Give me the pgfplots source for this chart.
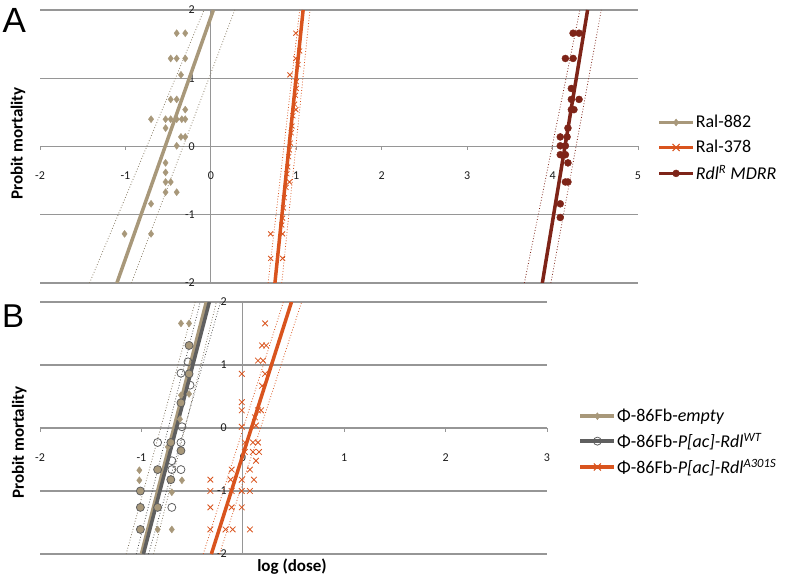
\documentclass[border=0pt]{standalone}
\usepackage{fontspec}
\setmainfont{Carlito}
\newfontfamily\panelfont{Liberation Sans}
\usepackage{pgfplots}
\pgfplotsset{compat=1.18}

\definecolor{tanc}{RGB}{168,152,122}
\definecolor{rust}{RGB}{217,84,30}
\definecolor{maroon}{RGB}{126,36,24}
\definecolor{slate}{RGB}{95,95,95}
\definecolor{gridgray}{RGB}{150,150,150}

\pgfplotsset{
  probit/.style={
    scale only axis,
    axis lines=middle,
    axis line style={-, gridgray, line width=1.2pt},
    enlargelimits=false,
    clip mode=individual,
    ymin=-2, ymax=2, ytick={-2,-1,0,1,2},
    ymajorgrids, major grid style={gridgray, line width=1.2pt},
    hide obscured x ticks=false, hide obscured y ticks=false,
    xtick style={gridgray, line width=0.8pt}, ytick style={draw=none},
    major tick length=3.5pt, tick align=outside,
    /pgf/number format/assume math mode=true,
    ticklabel style={font=\fontsize{12}{14}\selectfont, text=black!90},
    xticklabel style={anchor=center, yshift=-26pt},
    yticklabel style={anchor=east, xshift=-9pt},
    ylabel={Probit mortality},
    legend style={draw=none, fill=none, font=\fontsize{18}{21}\selectfont,
      inner sep=0pt, nodes={inner sep=1pt, anchor=west}},
    legend cell align=left,
    legend image code/.code={
      \draw[mark repeat=2, mark phase=2, #1]
        plot coordinates {(0pt,0pt) (17pt,0pt) (34pt,0pt)};
    },
  },
  fit/.style={line width=3.5pt, mark=none, forget plot},
  band/.style={line width=0.8pt, dotted, mark=none, forget plot},
  pts/.style={only marks, forget plot},
}

\begin{document}
\begin{tikzpicture}
\path[use as bounding box] (0,0) rectangle (789pt,578pt);

% ---------------- panel A
\begin{axis}[probit,
  at={(40pt,295pt)}, anchor=south west,
  width=598pt, height=273pt,
  xmin=-2, xmax=5, xtick={-2,...,5},
  ylabel style={at={(rel axis cs:-0.037,0.511)}, rotate=90, anchor=center,
    font=\fontsize{17}{20}\selectfont\bfseries},
  legend style={at={(rel axis cs:1.032,0.493)}, anchor=west, row sep=9pt},
]
\addlegendimage{tanc, line width=3.5pt, mark=diamond*, mark options={solid, line width=0.4pt, fill=tanc, mark size=3.5pt}}
\addlegendentry{Ral-882}
\addlegendimage{rust, line width=3.5pt, mark=x, mark options={solid, line width=1pt, mark size=5pt}}
\addlegendentry{Ral-378}
\addlegendimage{maroon, line width=3.5pt, mark=*, mark options={solid, line width=0.4pt, fill=maroon, mark size=3.5pt}}
\addlegendentry{\textit{Rdl}\textsuperscript{\textit{R}} \textit{MDRR}}

% Ral-882
\addplot[band, tanc!80!black] coordinates {(-1.42,-2) (-0.08,2)};
\addplot[band, tanc!80!black] coordinates {(-0.93,-2) (0.28,2)};
\addplot[fit, tanc] coordinates {(-1.10,-2) (0.03,2)};
\addplot[pts, mark=diamond*, tanc, mark size=3.5pt] coordinates {
  (-0.40,1.66) (-0.30,1.66) (-0.47,1.29) (-0.40,1.29) (-0.30,1.29)
  (-0.35,1.05) (-0.47,0.69) (-0.40,0.69) (-0.30,0.54) (-0.70,0.40)
  (-0.53,0.40) (-0.47,0.40) (-0.40,0.40) (-0.34,0.40) (-0.30,0.40)
  (-0.53,0.27) (-0.35,0.14) (-0.30,0.14) (-0.40,0.01) (-0.53,-0.24)
  (-0.53,-0.38) (-0.53,-0.52) (-0.47,-0.52) (-0.53,-0.67) (-0.40,-0.67)
  (-0.70,-0.84) (-1.01,-1.28) (-0.70,-1.28)
};

% Ral-378
\addplot[band, rust] coordinates {(0.67,-2) (1.04,2)};
\addplot[band, rust] coordinates {(0.83,-2) (1.16,2)};
\addplot[fit, rust] coordinates {(0.75,-2) (1.08,2)};
\addplot[pts, mark=x, rust, mark size=3.5pt, line width=0.8pt] coordinates {
  (0.995,1.66) (0.995,1.29) (0.925,1.05) (1.04,1.40) (1.02,1.20)
  (1.00,0.95) (1.00,0.85) (0.99,0.75) (0.98,0.62) (0.995,0.54)
  (0.96,0.45) (0.95,0.30) (0.94,0.20) (0.93,0.05) (0.92,-0.05)
  (0.91,-0.15) (0.90,-0.30) (0.89,-0.40) (0.92,-0.52) (0.88,-0.60)
  (0.86,-0.75) (0.85,-0.90) (0.84,-1.05) (0.83,-1.15)
  (0.70,-1.28) (0.84,-1.28) (0.70,-1.64) (0.84,-1.64)
};

% Rdl R MDRR
\addplot[band, maroon] coordinates {(3.67,-2) (4.32,2)};
\addplot[band, maroon] coordinates {(3.98,-2) (4.57,2)};
\addplot[fit, maroon] coordinates {(3.88,-2) (4.41,2)};
\addplot[pts, mark=*, maroon, mark size=3.5pt] coordinates {
  (4.24,1.66) (4.31,1.66) (4.15,1.29) (4.24,1.29) (4.22,0.85)
  (4.22,0.69) (4.31,0.69) (4.22,0.54) (4.25,0.54) (4.18,0.27)
  (4.09,0.14) (4.17,0.14) (4.09,0.01) (4.15,0.01) (4.09,-0.12)
  (4.15,-0.12) (4.18,-0.24) (4.15,-0.52) (4.18,-0.52) (4.09,-0.84)
  (4.09,-1.04)
};

\node[font=\panelfont\fontsize{35}{38}\selectfont] at (rel axis cs:-0.043,0.963) {A};
\end{axis}

% ---------------- panel B
\begin{axis}[probit,
  at={(40pt,24pt)}, anchor=south west,
  width=507pt, height=252pt,
  xmin=-2, xmax=3, xtick={-2,...,3},
  xlabel={log (dose)},
  xlabel style={at={(rel axis cs:0.497,-0.052)}, anchor=center,
    font=\fontsize{17}{20}\selectfont\bfseries},
  ylabel style={at={(rel axis cs:-0.041,0.442)}, rotate=90, anchor=center,
    font=\fontsize{17}{20}\selectfont\bfseries},
  legend style={at={(rel axis cs:1.062,0.444)}, anchor=west, row sep=8pt},
]
\addlegendimage{tanc, line width=3.5pt, mark=diamond*, mark options={solid, line width=0.4pt, fill=tanc, mark size=3.5pt}}
\addlegendentry{Φ-86Fb-\textit{empty}}
\addlegendimage{slate, line width=3.5pt, mark=o, mark options={solid, line width=0.8pt, fill=white, mark size=4pt}}
\addlegendentry{Φ-86Fb-\textit{P[ac]-Rdl}\textsuperscript{\textit{WT}}}
\addlegendimage{rust, line width=3.5pt, mark=x, mark options={solid, line width=1pt, mark size=5pt}}
\addlegendentry{Φ-86Fb-\textit{P[ac]-Rdl}\textsuperscript{\textit{A301S}}}

% empty and WT
\addplot[band, tanc!75!black] coordinates {(-1.15,-2) (-0.47,2)};
\addplot[band, tanc!75!black] coordinates {(-0.88,-2) (-0.26,2)};
\addplot[band, black!70] coordinates {(-1.05,-2) (-0.42,2)};
\addplot[band, black!70] coordinates {(-0.93,-2) (-0.22,2)};
\addplot[fit, tanc] coordinates {(-1.00,-2) (-0.36,2)};
\addplot[fit, slate] coordinates {(-0.98,-2) (-0.33,2)};
\addplot[pts, mark=diamond*, tanc, mark size=3.5pt] coordinates {
  (-0.61,1.66) (-0.53,1.66) (-0.61,0.52) (-0.53,0.54) (-0.62,0.14)
  (-0.74,-0.30) (-1.02,-0.67) (-1.02,-0.83) (-0.60,-0.83) (-0.70,-1.02)
  (-0.84,-1.61) (-0.70,-1.61)
};
\addplot[pts, mark=*, mark options={draw=slate, fill=tanc, line width=0.8pt}, mark size=4pt] coordinates {
  (-0.53,1.31) (-0.53,0.86) (-0.61,0.40) (-0.71,-0.23) (-0.61,-0.36)
  (-0.84,-0.66) (-0.71,-0.82) (-1.01,-1.00) (-1.01,-1.26) (-1.01,-1.61)
  (-0.84,-1.26)
};
\addplot[pts, mark=o, mark options={draw=slate, fill=white, line width=0.8pt}, mark size=4pt] coordinates {
  (-0.54,1.05) (-0.61,0.87) (-0.52,0.68) (-0.60,0.02) (-0.84,-0.23)
  (-0.61,-0.23) (-0.70,-0.52) (-0.70,-0.66) (-0.61,-0.66) (-0.70,-1.26)
};

% A301S
\addplot[band, rust] coordinates {(-0.39,-2) (0.40,2)};
\addplot[band, rust] coordinates {(-0.23,-2) (0.58,2)};
\addplot[fit, rust] coordinates {(-0.31,-2) (0.48,2)};
\addplot[pts, mark=x, rust, mark size=4pt, line width=0.8pt] coordinates {
  (0.22,1.66) (0.19,1.31) (0.23,1.31) (0.15,1.07) (0.20,1.07)
  (-0.01,0.86) (0.22,0.86) (0.19,0.67) (-0.01,0.41) (-0.01,0.28)
  (0.15,0.28) (0.18,0.28) (-0.01,0.02) (0.12,0.17) (0.13,0.04)
  (0.10,-0.23) (0.15,-0.23) (0.10,-0.38) (0.16,-0.38) (0.02,-0.23)
  (0.02,-0.38) (0.13,-0.52) (-0.11,-0.66) (0.07,-0.66)
  (-0.32,-0.82) (-0.32,-1.00) (-0.32,-1.26)
  (-0.12,-0.82) (-0.01,-0.82) (0.11,-0.82)
  (-0.11,-1.00) (-0.01,-1.00) (0.07,-1.00)
  (-0.11,-1.26) (-0.01,-1.26)
  (-0.32,-1.61) (-0.17,-1.61) (-0.10,-1.61) (0.07,-1.61)
};

\node[font=\panelfont\fontsize{33}{36}\selectfont] at (rel axis cs:-0.053,0.944) {B};
\end{axis}
\end{tikzpicture}
\end{document}
